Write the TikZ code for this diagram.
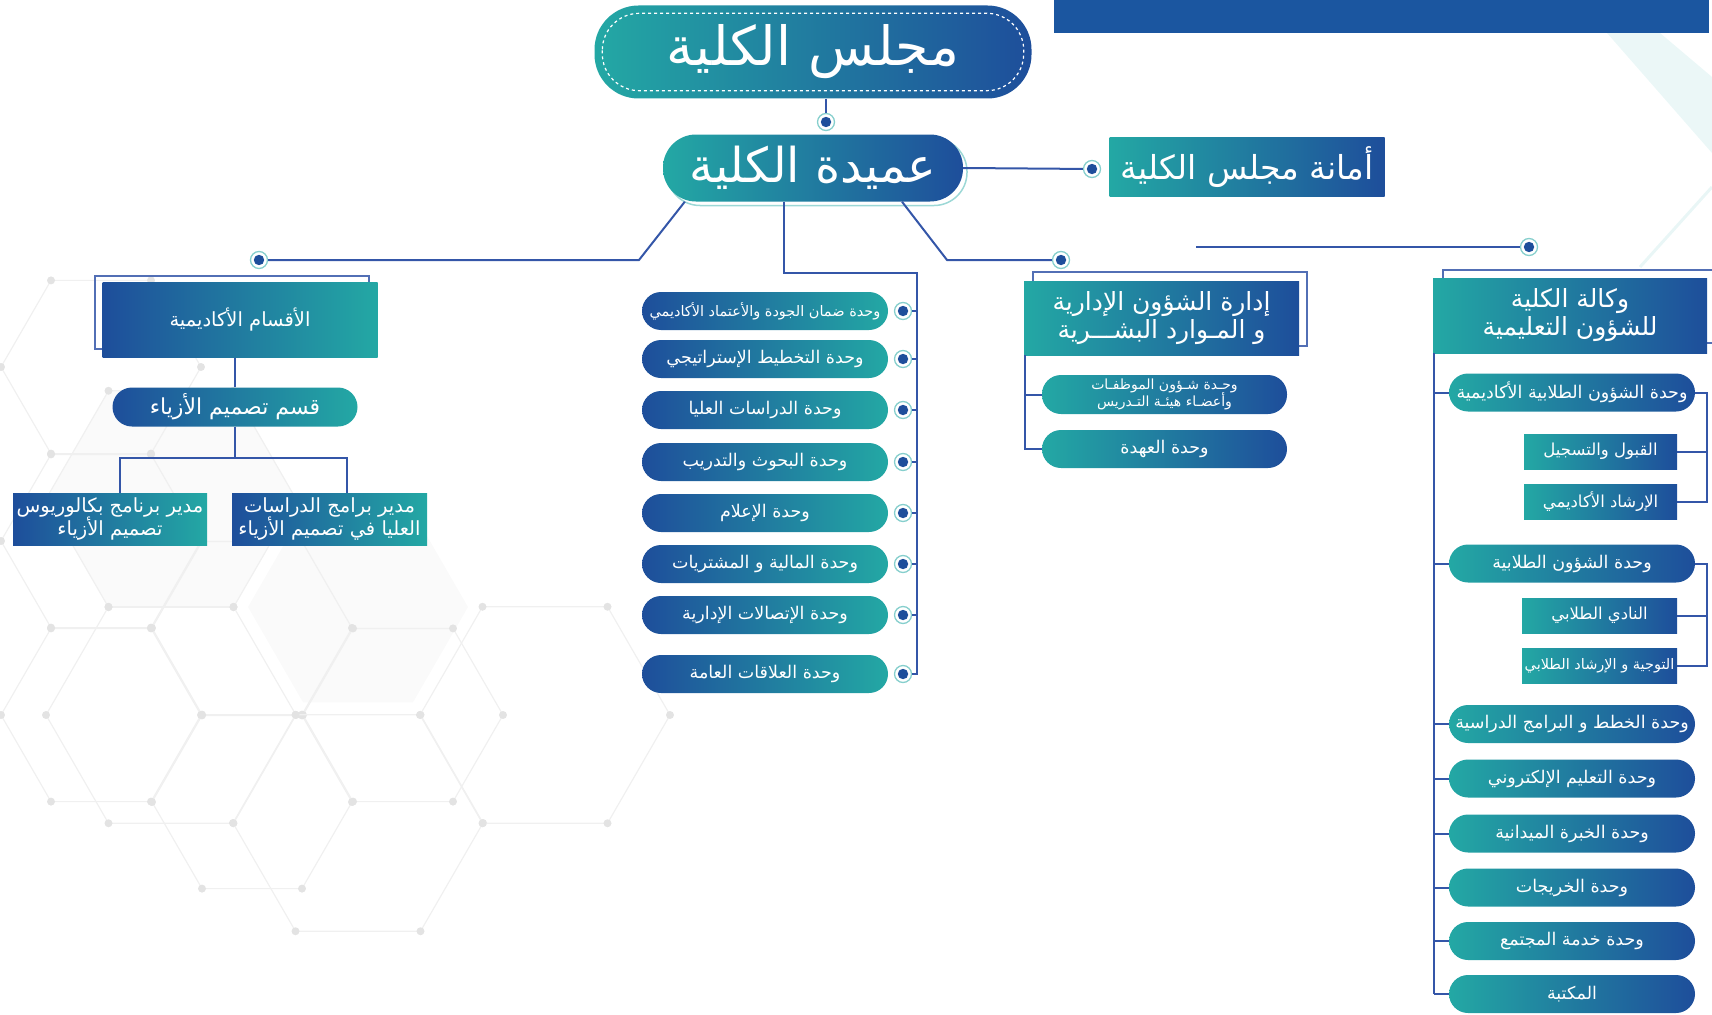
\documentclass[tikz,border=0pt]{standalone}
\usepackage{fontspec}
\setmainfont{DejaVu Sans}
\newfontfamily\arabicfont[Script=Arabic]{DejaVu Sans}
\TeXXeTstate=1
\usetikzlibrary{calc}
\usetikzlibrary{positioning}

\definecolor{navy}{RGB}{30,78,155}
\definecolor{tealc}{RGB}{35,168,164}
\definecolor{linec}{RGB}{52,86,168}
\definecolor{barblue}{RGB}{27,86,160}

\newcommand{\artext}[1]{{\arabicfont\beginR #1\endR}}
\newcommand{\fsz}[1]{\fontsize{#1}{1.2\dimexpr#1pt\relax}\selectfont}
% one background cell: centre x, centre y, side
\newcommand{\hexcell}[3]{%
  \draw[hexline] ($(#1,#2)+(0:#3)$) \foreach \a in {60,120,...,300} {-- ($(#1,#2)+(\a:#3)$)} -- cycle;
  \foreach \a in {0,60,...,300} \fill[hexdot] ($(#1,#2)+(\a:#3)$) circle (4pt);}

\begin{document}
\begin{tikzpicture}[x=1pt, y=-1pt,
    link/.style={draw=linec, line width=2pt},
    frame/.style={draw=linec!85, line width=1.6pt},
    tn/.style={left color=tealc, right color=navy},
    nt/.style={left color=navy, right color=tealc},
    card/.style={rectangle, text=white, inner sep=0pt, align=center},
    pill/.style={card, rounded corners=19pt, minimum width=246pt, minimum height=38pt, font=\fsz{17.5}},
    tag/.style={card, tn, minimum width=153pt, minimum height=35pt, font=\fsz{16.5}},
    dot/.style={circle, minimum size=17pt, inner sep=0pt, draw=tealc!55, line width=1.3pt, fill=white,
      path picture={\fill[navy] (path picture bounding box.center) circle (5.2pt);}},
    hexline/.style={draw=black!6, line width=1.2pt},
    hexdot/.style={fill=black!11}]
    \useasboundingbox (0,0) rectangle (1712,1014);
    \clip (0,0) rectangle (1712,1014);

    % background
    \fill[black!2] ($(171,499)+(0:125)$) \foreach \a in {60,120,...,300} {-- ($(171,499)+(\a:125)$)} -- cycle;
    \fill[black!2] ($(358,607)+(0:110)$) \foreach \a in {60,120,...,300} {-- ($(358,607)+(\a:110)$)} -- cycle;
    \hexcell{101}{367}{100}
    \hexcell{101}{541}{100}
    \hexcell{101}{715}{100}
    \hexcell{252}{628}{100}
    \hexcell{252}{802}{100}
    \hexcell{403}{715}{100}
    \hexcell{171}{499}{125}
    \hexcell{171}{715}{125}
    \hexcell{358}{823}{125}
    \hexcell{545}{715}{125}
    \fill[tealc!9] (1607,33) -- (1660,33) -- (1712,77) -- (1712,153) -- cycle;
    \draw[tealc!10, line width=3pt] (1712,187) -- (1640,267);
    \fill[barblue] (1054,0) rectangle (1709,33);

    % top of the chart
    \node[card, tn, rounded corners=44pt, minimum width=437pt, minimum height=93pt, font=\fsz{54}] (council) at (813,52) {\artext{مجلس الكلية}};
    \draw[white, dashed, line width=1.2pt, rounded corners=37pt] ($(council.north west)+(8,8)$) rectangle ($(council.south east)+(-8,-8)$);
    \node[dot] (c0) at (826,122) {};
    \draw[link] (council.south -| c0) -- (c0);

    \node[card, fill=white, draw=tealc!45, line width=1.5pt, rounded corners=33pt, minimum width=300pt, minimum height=67pt] (deansh) at (817,172) {};
    \node[card, tn, rounded corners=33pt, minimum width=300pt, minimum height=67pt, font=\fsz{48}] (dean) at (813,168) {\artext{عميدة الكلية}};

    \node[card, tn, minimum width=275pt, minimum height=59pt, font=\fsz{33}] (secr) at (1247,167) {\artext{أمانة مجلس الكلية}};
    \node[dot] (d1) at (1092,169) {};
    \draw[link] (dean.east) -- (d1);

    % academic departments
    \node[dot] (d2) at (259,260) {};
    \draw[link] ([xshift=22pt]dean.south west) -- (639,260) -- (d2);
    \draw[frame] (95,276) rectangle (369,349);
    \node[card, nt, minimum width=275pt, minimum height=75pt, font=\fsz{19.5}] (acad) at (240,320) {\artext{الأقسام الأكاديمية}};
    \node[card, nt, rounded corners=19.5pt, minimum width=245pt, minimum height=39pt, font=\fsz{22}] (dept) at (235,407) {\artext{قسم تصميم الأزياء}};
    \node[card, nt, minimum width=194pt, minimum height=52pt, font=\fsz{19.5}] (bach) at (110,519) {\artext{مدير برنامج بكالوريوس}\\\artext{تصميم الأزياء}};
    \node[card, nt, minimum width=195pt, minimum height=52pt, font=\fsz{19.5}] (grad) at (329.5,519) {\artext{مدير برامج الدراسات}\\\artext{العليا في تصميم الأزياء}};
    \coordinate (j1) at (235,458);
    \draw[link] (dept.north |- acad.south) -- (dept.north);
    \draw[link] (dept.south) -- (j1);
    \draw[link] ([xshift=10pt]bach.north) |- (j1) -| ([xshift=17.5pt]grad.north);

    % units under the dean
    \draw[link] ([xshift=-29pt]dean.south) |- (917,273) -- (917,675);
    \foreach \y/\t [count=\i] in {311/وحدة التخطيط الإستراتيجي, 359/وحدة التخطيط الإستراتيجي, 410/وحدة الدراسات العليا, 462/وحدة البحوث والتدريب, 513/وحدة الإعلام, 564/وحدة المالية و المشتريات, 615/وحدة الإتصالات الإدارية, 674/وحدة العلاقات العامة} {
        \ifnum\i=1
            \node[pill, nt, font=\fsz{14.5}] (u\i) at (765,\y) {\artext{وحدة ضمان الجودة والأعتماد الأكاديمي}};
        \else
            \node[pill, nt] (u\i) at (765,\y) {\artext{\t}};
        \fi
        \node[dot] (ud\i) at (903,\y) {};
        \draw[link] (ud\i) -- (917,\y);
    }

    % administrative affairs
    \node[dot] (d3) at (1061,260) {};
    \draw[link] ([xshift=89pt]dean.south) -- (947,260) -- (d3);
    \draw[frame] (1033,272) rectangle (1307,346);
    \node[card, tn, minimum width=275pt, minimum height=74pt, font=\fsz{25}] (hr) at (1161.5,318) {\artext{إدارة الشؤون الإدارية}\\[-2pt]\artext{و المـوارد البشـــرية}};
    \node[pill, tn, minimum width=245pt, minimum height=39pt, font=\fsz{14}] (hr1) at (1164.5,394.5) {\artext{وحـدة شـؤون الموظفـات}\\[-2pt]\artext{وأعضـاء هيئـة التـدريس}};
    \node[pill, tn, minimum width=245pt] (hr2) at (1164.5,449) {\artext{وحدة العهدة}};
    \draw[link] ([xshift=1pt]hr.south west) |- (hr2.west);
    \draw[link] ([xshift=1pt]hr.south west |- hr1.west) -- (hr1.west);

    % vice dean
    \coordinate (vl) at (1196,247);
    \node[dot] (d4) at (1529,247) {};
    \draw[link] (vl) -- (d4);
    \draw[frame] (1443,278) -- (1443,270) -- (1720,270) -- (1720,343) -- (1700,343);
    \node[card, tn, minimum width=274pt, minimum height=75pt, font=\fsz{25}] (vice) at (1570,315.5) {\artext{وكالة الكلية}\\[-2pt]\artext{للشؤون التعليمية}};
    \foreach \y/\t [count=\i] in {392.5/وحدة الشؤون الطلابية الأكاديمية, 563.5/وحدة الشؤون الطلابية, 724/وحدة الخطط و البرامج الدراسية, 778.5/وحدة التعليم الإلكتروني, 833.5/وحدة الخبرة الميدانية, 887.5/وحدة الخريجات, 941/وحدة خدمة المجتمع, 994/المكتبة}
        \node[pill, tn] (v\i) at (1572,\y) {\artext{\t}};
    \coordinate (sp) at ([xshift=1pt]vice.south west);
    \draw[link] (sp) -- (sp |- v8.west);
    \foreach \i in {1,...,8}
        \draw[link] (sp |- v\i.west) -- (v\i.west);

    \node[tag] (v1a) at (1600.5,451.5) {\artext{القبول والتسجيل}};
    \node[tag] (v1b) at (1600.5,502) {\artext{الإرشاد الأكاديمي}};
    \node[tag, minimum width=155pt] (v2a) at (1599.5,615.5) {\artext{النادي الطلابي}};
    \node[tag, minimum width=155pt, font=\fsz{14.5}] (v2b) at (1599.5,666) {\artext{التوجية و الإرشاد الطلابي}};
    \coordinate (b1) at (1707,0);
    \draw[link] (v1.east) -| (b1 |- v1b.east) -- (v1b.east);
    \draw[link] (b1 |- v1a.east) -- (v1a.east);
    \draw[link] (v2.east) -| (b1 |- v2b.east) -- (v2b.east);
    \draw[link] (b1 |- v2a.east) -- (v2a.east);
\end{tikzpicture}
\end{document}
